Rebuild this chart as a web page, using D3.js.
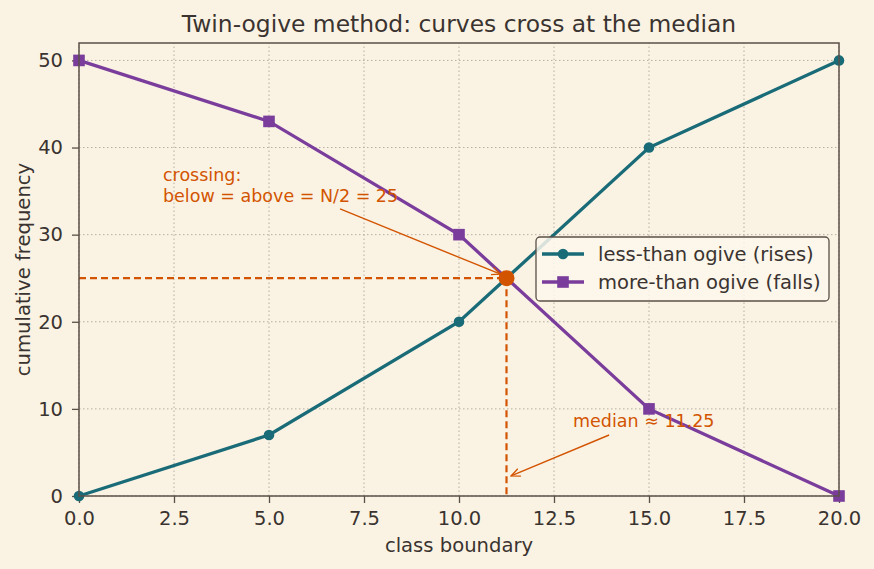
<!DOCTYPE html>
<html>
<head>
<meta charset="utf-8">
<script src="https://cdn.jsdelivr.net/npm/d3@7"></script>
<style>
  body { margin: 0; background: #faf3e4; }
  svg { display: block; font-family: 'DejaVu Sans', sans-serif; }
</style>
</head>
<body>
<div id="chart"></div>
<script>
// data
var boundaries = [0, 5, 10, 15, 20]
var lessThan = [0, 7, 20, 40, 50]
var moreThan = [50, 43, 30, 10, 0]
var xTicks = [0, 2.5, 5, 7.5, 10, 12.5, 15, 17.5, 20]
var yTicks = [0, 10, 20, 30, 40, 50]
var median = 11.25
var halfN = 25

var W = 874, H = 569
var m = { left: 79, right: 35, top: 43, bottom: 73 }
var textColor = '#3a3330', axisColor = '#5b5047'
var teal = '#1a6b78', purple = '#7b3d9c', orange = '#d35400'

var svg = d3.select('#chart').append('svg')
    .attr('width', W).attr('height', H)

svg.append('rect').attr('width', W).attr('height', H).attr('fill', '#faf3e4')

var x = d3.scaleLinear().domain([0, 20]).range([m.left, W - m.right])
var y = d3.scaleLinear().domain([0, 52]).range([H - m.bottom, m.top])

// сетка
svg.append('g').selectAll('line').data(xTicks).enter().append('line')
    .attr('x1', d => x(d)).attr('x2', d => x(d))
    .attr('y1', y(0)).attr('y2', y(52))
    .attr('stroke', '#b5aea3').attr('stroke-width', 1).attr('stroke-dasharray', '1.5,2.5')
svg.append('g').selectAll('line').data(yTicks).enter().append('line')
    .attr('x1', x(0)).attr('x2', x(20))
    .attr('y1', d => y(d)).attr('y2', d => y(d))
    .attr('stroke', '#b5aea3').attr('stroke-width', 1).attr('stroke-dasharray', '1.5,2.5')

// оси
var xAxis = svg.append('g')
    .attr('transform', 'translate(0,' + y(0) + ')')
    .call(d3.axisBottom(x).tickValues(xTicks).tickFormat(d3.format('.1f')).tickSizeOuter(0).tickSize(7).tickPadding(8))
var yAxis = svg.append('g')
    .attr('transform', 'translate(' + x(0) + ',0)')
    .call(d3.axisLeft(y).tickValues(yTicks).tickSizeOuter(0).tickSize(7).tickPadding(9))
;[xAxis, yAxis].forEach(function (g) {
    g.select('.domain').remove()
    g.selectAll('.tick line').attr('stroke', axisColor).attr('stroke-width', 1.3)
    g.selectAll('.tick text').attr('fill', textColor).style('font-size', '19.5px')
        .style('font-family', 'DejaVu Sans, sans-serif')
})

// медиана: пунктир
svg.append('line')
    .attr('x1', x(0)).attr('x2', x(median))
    .attr('y1', y(halfN)).attr('y2', y(halfN))
    .attr('stroke', orange).attr('stroke-width', 2.2).attr('stroke-dasharray', '7,4')
svg.append('line')
    .attr('x1', x(median)).attr('x2', x(median))
    .attr('y1', y(halfN)).attr('y2', y(0))
    .attr('stroke', orange).attr('stroke-width', 2.2).attr('stroke-dasharray', '7,4')

var line = d3.line().x(d => x(d[0])).y(d => y(d[1]))
var lessPts = boundaries.map((b, i) => [b, lessThan[i]])
var morePts = boundaries.map((b, i) => [b, moreThan[i]])

svg.append('path').datum(lessPts).attr('d', line)
    .attr('fill', 'none').attr('stroke', teal).attr('stroke-width', 3.3)
svg.append('g').selectAll('circle').data(lessPts).enter().append('circle')
    .attr('cx', d => x(d[0])).attr('cy', d => y(d[1])).attr('r', 5.3).attr('fill', teal)

svg.append('path').datum(morePts).attr('d', line)
    .attr('fill', 'none').attr('stroke', purple).attr('stroke-width', 3.3)
svg.append('g').selectAll('rect').data(morePts).enter().append('rect')
    .attr('x', d => x(d[0]) - 5.8).attr('y', d => y(d[1]) - 5.8)
    .attr('width', 11.6).attr('height', 11.6).attr('fill', purple)

// точка пересечения
svg.append('circle').attr('cx', x(median)).attr('cy', y(halfN)).attr('r', 8).attr('fill', orange)

// рамка графика
svg.append('rect')
    .attr('x', x(0)).attr('y', y(52))
    .attr('width', x(20) - x(0)).attr('height', y(0) - y(52))
    .attr('fill', 'none').attr('stroke', axisColor).attr('stroke-width', 1.5)

// стрелки
svg.append('defs').append('marker')
    .attr('id', 'arr').attr('viewBox', '0 0 10 10').attr('refX', 9).attr('refY', 5)
    .attr('markerWidth', 10).attr('markerHeight', 10).attr('markerUnits', 'userSpaceOnUse')
    .attr('orient', 'auto')
    .append('path').attr('d', 'M0,1 L9,5 L0,9').attr('fill', 'none')
    .attr('stroke', orange).attr('stroke-width', 1.3)

// аннотация: пересечение
var ann1 = svg.append('text').attr('fill', orange).style('font-size', '17.5px')
    .attr('x', x(2.21)).attr('y', y(36.2))
ann1.append('tspan').attr('x', x(2.21)).text('crossing:')
ann1.append('tspan').attr('x', x(2.21)).attr('dy', 21).text('below = above = N/2 = 25')
svg.append('line')
    .attr('x1', x(6.87)).attr('y1', y(32.95))
    .attr('x2', x(median) - 6).attr('y2', y(halfN) - 4)
    .attr('stroke', orange).attr('stroke-width', 1.4).attr('marker-end', 'url(#arr)')

// аннотация: медиана
svg.append('text').attr('fill', orange).style('font-size', '17.5px')
    .attr('x', x(13)).attr('y', y(7.92)).text('median ≈ 11.25')
svg.append('line')
    .attr('x1', x(13.95)).attr('y1', y(7))
    .attr('x2', x(11.37)).attr('y2', y(2.3))
    .attr('stroke', orange).attr('stroke-width', 1.4).attr('marker-end', 'url(#arr)')

// легенда
var lg = svg.append('g').attr('transform', 'translate(536,237)')
lg.append('rect').attr('width', 293).attr('height', 64).attr('rx', 4)
    .attr('fill', '#fbf6ec').attr('fill-opacity', 0.85).attr('stroke', axisColor).attr('stroke-width', 1.3)
var items = [
    { name: 'less-than ogive (rises)', color: teal, shape: 'circle' },
    { name: 'more-than ogive (falls)', color: purple, shape: 'square' }
]
items.forEach(function (d, i) {
    var gy = 17 + i * 28
    lg.append('line').attr('x1', 6).attr('x2', 48).attr('y1', gy).attr('y2', gy)
        .attr('stroke', d.color).attr('stroke-width', 3.3)
    if (d.shape === 'circle') {
        lg.append('circle').attr('cx', 27).attr('cy', gy).attr('r', 5.3).attr('fill', d.color)
    } else {
        lg.append('rect').attr('x', 21.2).attr('y', gy - 5.8).attr('width', 11.6).attr('height', 11.6).attr('fill', d.color)
    }
    lg.append('text').attr('x', 62).attr('y', gy + 6.5).attr('fill', textColor)
        .style('font-size', '19.5px').text(d.name)
})

// заголовок и подписи осей
svg.append('text').attr('x', (x(0) + x(20)) / 2).attr('y', 32)
    .attr('text-anchor', 'middle').attr('fill', textColor).style('font-size', '23.4px')
    .text('Twin-ogive method: curves cross at the median')
svg.append('text').attr('x', (x(0) + x(20)) / 2).attr('y', 552)
    .attr('text-anchor', 'middle').attr('fill', textColor).style('font-size', '19.6px')
    .text('class boundary')
svg.append('text').attr('transform', 'translate(30,' + (y(0) + y(52)) / 2 + ') rotate(-90)')
    .attr('text-anchor', 'middle').attr('fill', textColor).style('font-size', '19.6px')
    .text('cumulative frequency')
</script>
</body>
</html>
